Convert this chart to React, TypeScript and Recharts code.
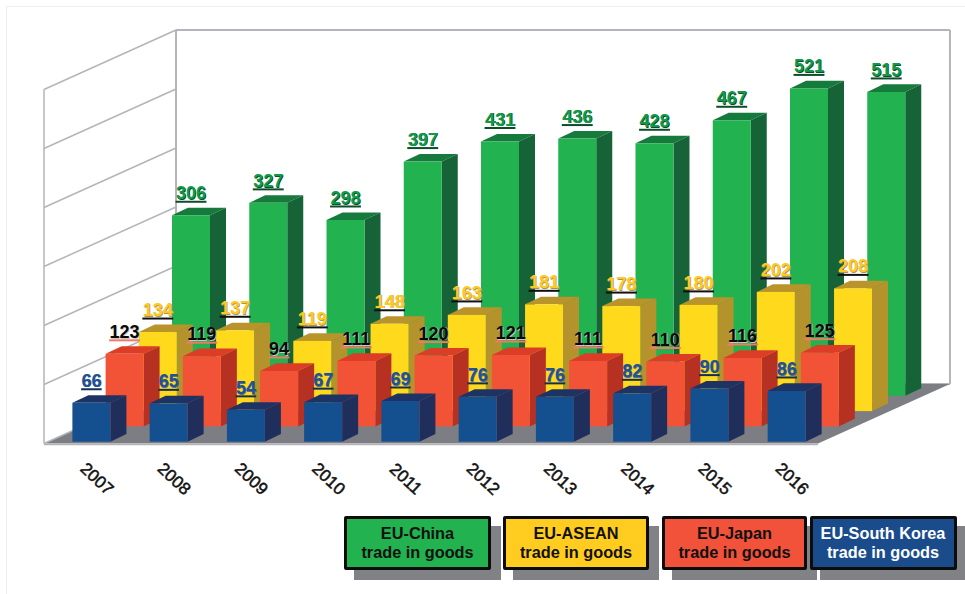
import { BarChart, Bar, XAxis, YAxis, CartesianGrid, LabelList, Customized } from 'recharts';

const years = ['2007', '2008', '2009', '2010', '2011', '2012', '2013', '2014', '2015', '2016'];
const chinaValues = [306, 327, 298, 397, 431, 436, 428, 467, 521, 515];
const aseanValues = [134, 137, 119, 148, 163, 181, 178, 180, 202, 208];
const japanValues = [123, 119, 94, 111, 120, 121, 111, 110, 116, 125];
const koreaValues = [66, 65, 54, 67, 69, 76, 76, 82, 90, 86];
const gridTicks = [0, 100, 200, 300, 400, 500, 600];

const WIDTH = 965;
const HEIGHT = 594;
const FONT = '"Liberation Sans", Arial, sans-serif';

// Plot box of the front row; each row behind it moves by ROW_DX / ROW_DY
const FRONT_LEFT = 52.4;
const FRONT_WIDTH = 772.5;
const FRONT_BASE = 441.7;
const PLOT_HEIGHT = 354;
const ROW_DX = 33.2;
const ROW_DY = -15.3;
const BAR_WIDTH = 38;
const DEPTH_X = 16;
const DEPTH_Y = -7.6;

// Walls and floor
const WALL_LEFT = 176;
const WALL_RIGHT = 950;
const WALL_BASE = 384;
const ROOM_DX = 132;
const ROOM_DY = 59.5;
const GRID_COLOR = '#b4b5ba';

const tableFor = (values: number[]) => years.map((year, i) => ({ year, value: values[i] }));

type Palette = {
  front: string;
  top: string;
  side: string;
  text: string;
  shadow: string;
  rule: string;
};

const chinaPalette: Palette = { front: '#22b24f', top: '#167a3c', side: '#166337', text: '#129a4a', shadow: '#0b4d28', rule: '#0b4d28' };
const aseanPalette: Palette = { front: '#ffd91c', top: '#b8942a', side: '#b4922c', text: '#ffc91f', shadow: '#a8925a', rule: '#111111' };
const japanPalette: Palette = { front: '#f25337', top: '#dc3d26', side: '#b73122', text: '#0a0a0a', shadow: '#c8c8c8', rule: '#ef7a68' };
const koreaPalette: Palette = { front: '#144f8f', top: '#1d3363', side: '#1f2e5b', text: '#1f5296', shadow: '#5b6d8e', rule: '#123055' };

const Room = () => {
  const y0 = WALL_BASE;
  const unit = PLOT_HEIGHT / 600;
  const x0 = WALL_LEFT - ROOM_DX;
  return (
    <g>
      <polygon
        points={`${x0},${y0 + ROOM_DY} ${WALL_LEFT},${y0} ${WALL_RIGHT},${y0} ${WALL_RIGHT - ROOM_DX},${y0 + ROOM_DY}`}
        fill="#7d7e83"
      />
      {gridTicks.map((tick) => (
        <line
          key={tick}
          x1={x0}
          y1={y0 + ROOM_DY - tick * unit}
          x2={WALL_LEFT}
          y2={y0 - tick * unit}
          stroke={GRID_COLOR}
          strokeWidth={1.5}
        />
      ))}
      <line x1={x0} y1={y0 + ROOM_DY} x2={x0} y2={y0 + ROOM_DY - 600 * unit} stroke={GRID_COLOR} strokeWidth={1.5} />
      <line x1={WALL_LEFT} y1={y0} x2={WALL_LEFT} y2={y0 - 600 * unit} stroke={GRID_COLOR} strokeWidth={2} />
      <line x1={WALL_RIGHT} y1={y0} x2={WALL_RIGHT} y2={y0 - 600 * unit} stroke={GRID_COLOR} strokeWidth={2} />
      <line x1={x0} y1={y0 + ROOM_DY + 1} x2={WALL_RIGHT - ROOM_DX} y2={y0 + ROOM_DY + 1} stroke={GRID_COLOR} strokeWidth={1.5} />
    </g>
  );
};

// Front face plus the top and side faces of a block
const blockShape = (palette: Palette) => (props: any) => {
  const { x, y, width, height } = props;
  const r = x + width;
  const b = y + height;
  return (
    <g>
      <polygon
        points={`${x},${y} ${x + DEPTH_X},${y + DEPTH_Y} ${r + DEPTH_X},${y + DEPTH_Y} ${r},${y}`}
        fill={palette.top}
      />
      <polygon
        points={`${r},${y} ${r + DEPTH_X},${y + DEPTH_Y} ${r + DEPTH_X},${b + DEPTH_Y} ${r},${b}`}
        fill={palette.side}
      />
      <rect x={x} y={y} width={width} height={height} fill={palette.front} />
    </g>
  );
};

// Value label with an offset shadow and a rule underneath
const valueLabel = (palette: Palette) => (props: any) => {
  const { x, y, width, value } = props;
  const cx = x + width / 2;
  const rule = String(value).length * 10.3;
  return (
    <g fontFamily={FONT} fontSize={18} fontWeight={700} textAnchor="middle">
      <line x1={cx - rule / 2} y1={y - 13.5} x2={cx + rule / 2} y2={y - 13.5} stroke={palette.rule} strokeWidth={2} />
      <text x={cx + 0.7} y={y - 15.3} fill={palette.shadow}>{value}</text>
      <text x={cx} y={y - 16} fill={palette.text}>{value}</text>
    </g>
  );
};

const YearTick = (props: any) => {
  const { x, y, payload } = props;
  return (
    <text
      transform={`translate(${x + 5},${y + 30}) rotate(43)`}
      textAnchor="middle"
      dominantBaseline="middle"
      fontFamily={FONT}
      fontSize={17}
      fontWeight={400}
      stroke="#111111"
      strokeWidth={0.5}
      fill="#111111"
    >
      {payload.value}
    </text>
  );
};

const SeriesLayer = ({ values, palette, row, showYears }: { values: number[]; palette: Palette; row: number; showYears?: boolean }) => {
  const left = FRONT_LEFT + row * ROW_DX;
  const base = FRONT_BASE + row * ROW_DY;
  const axisHeight = showYears ? 40 : 0;
  return (
    <div style={{ position: 'absolute', left: 0, top: 0 }}>
      <BarChart
        width={WIDTH}
        height={HEIGHT}
        data={tableFor(values)}
        margin={{
          left,
          right: WIDTH - left - FRONT_WIDTH,
          top: base - PLOT_HEIGHT,
          bottom: HEIGHT - base - axisHeight,
        }}
      >
        <XAxis dataKey="year" hide={!showYears} height={axisHeight} axisLine={false} tickLine={false} tick={<YearTick />} interval={0} />
        <YAxis hide domain={[0, 600]} />
        <Bar dataKey="value" barSize={BAR_WIDTH} isAnimationActive={false} shape={blockShape(palette)}>
          <LabelList dataKey="value" content={valueLabel(palette)} />
        </Bar>
      </BarChart>
    </div>
  );
};

const legendNames = ['EU-China', 'EU-ASEAN', 'EU-Japan', 'EU-South Korea'];
const legendSubtitle = 'trade in goods';
const legendFills = ['#22b24f', '#ffcc1f', '#f2523a', '#1a4c8c'];
const legendInk = ['#111111', '#111111', '#111111', '#ffffff'];
const legendLeft = [344, 503, 662, 809.5];
const legendWidth = [147, 146, 145, 147];

const LegendBoxes = () => (
  <>
    {legendNames.map((name, i) => (
      <div key={name}>
        <div
          style={{
            position: 'absolute',
            left: legendLeft[i] + 10,
            top: 526,
            width: legendWidth[i],
            height: 54,
            background: '#808285',
          }}
        />
        <div
          style={{
            position: 'absolute',
            left: legendLeft[i],
            top: 516,
            width: legendWidth[i],
            height: 54,
            boxSizing: 'border-box',
            border: '3.5px solid #0c0c0c',
            borderRadius: 2,
            background: legendFills[i],
            color: legendInk[i],
            fontFamily: FONT,
            fontSize: 16.3,
            fontWeight: 700,
            lineHeight: '18.5px',
            textAlign: 'center',
            paddingTop: 5,
          }}
        >
          {name}
          <br />
          {legendSubtitle}
        </div>
      </div>
    ))}
  </>
);

export default function App() {
  return (
    <div style={{ position: 'absolute', left: 0, top: 0, width: WIDTH, height: HEIGHT, overflow: 'hidden', background: '#ffffff' }}>
      <div style={{ position: 'absolute', left: 6, top: 6, width: WIDTH, height: HEIGHT, border: '1px solid #eeeeee' }} />
      <div style={{ position: 'absolute', left: 0, top: 0 }}>
        <BarChart
          width={WIDTH}
          height={HEIGHT}
          data={tableFor(chinaValues)}
          margin={{
            left: WALL_LEFT,
            right: WIDTH - WALL_RIGHT,
            top: WALL_BASE - PLOT_HEIGHT,
            bottom: HEIGHT - WALL_BASE,
          }}
        >
          <XAxis dataKey="year" hide />
          <YAxis hide domain={[0, 600]} ticks={gridTicks} />
          <Customized component={Room} />
          <CartesianGrid vertical={false} stroke={GRID_COLOR} strokeWidth={2} />
        </BarChart>
      </div>
      <SeriesLayer values={chinaValues} palette={chinaPalette} row={3} />
      <SeriesLayer values={aseanValues} palette={aseanPalette} row={2} />
      <SeriesLayer values={japanValues} palette={japanPalette} row={1} />
      <SeriesLayer values={koreaValues} palette={koreaPalette} row={0} showYears />
      <LegendBoxes />
    </div>
  );
}
